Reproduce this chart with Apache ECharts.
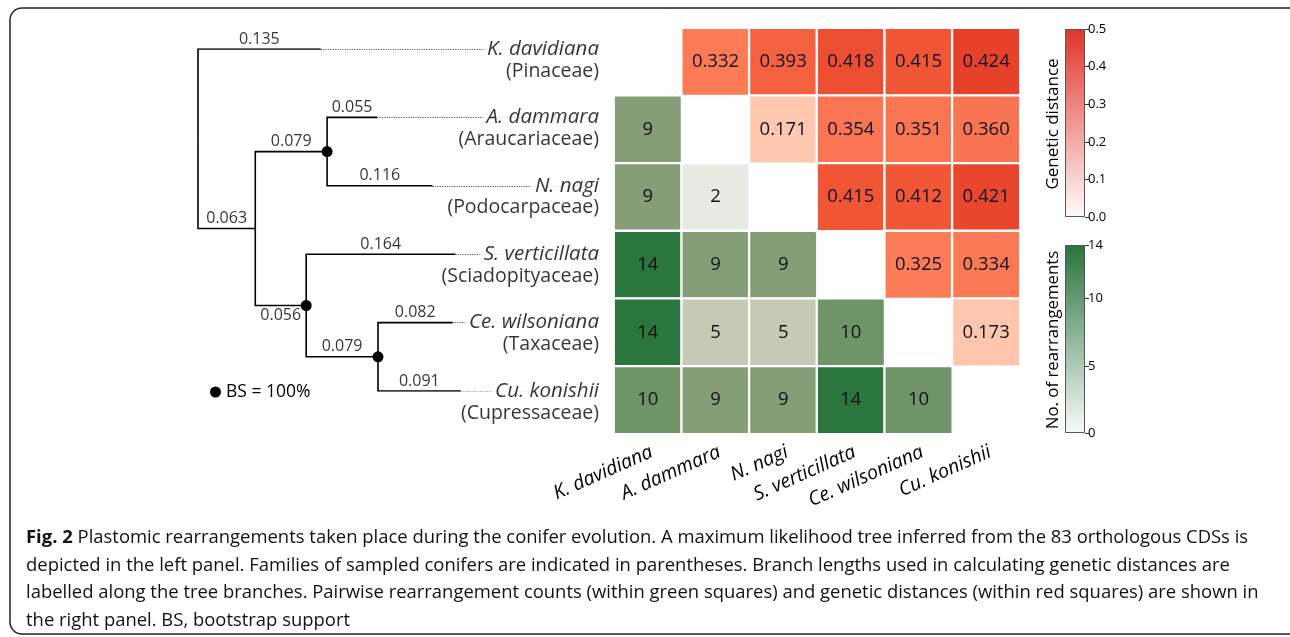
<!DOCTYPE html>
<html>
<head>
<meta charset="utf-8">
<script src="https://cdn.jsdelivr.net/npm/echarts@6/dist/echarts.min.js"></script>
<style>
  html, body { margin: 0; padding: 0; background: #fff; }
  #chart { width: 1290px; height: 637px; }
</style>
</head>
<body>
<div id="chart"></div>
<script>
// ---------------- DATA ----------------
const taxa = ['K. davidiana', 'A. dammara', 'N. nagi', 'S. verticillata', 'Ce. wilsoniana', 'Cu. konishii'];
const families = ['Pinaceae', 'Araucariaceae', 'Podocarpaceae', 'Sciadopityaceae', 'Taxaceae', 'Cupressaceae'];

// tree edges (parent -> child, branch length)
const edgeParent = ['R', 'R', 'X', 'X', 'A', 'A', 'B', 'B', 'C', 'C'];
const edgeChild = ['K. davidiana', 'X', 'A', 'B', 'A. dammara', 'N. nagi', 'S. verticillata', 'C', 'Ce. wilsoniana', 'Cu. konishii'];
const edgeLength = [0.135, 0.063, 0.079, 0.056, 0.055, 0.116, 0.164, 0.079, 0.082, 0.091];
const bootstrap100 = ['A', 'B', 'C'];

// pairwise rearrangement counts (lower triangle, row i, columns 0..i-1)
const rearrangements = [[], [9], [9, 2], [14, 9, 9], [14, 5, 5, 10], [10, 9, 9, 14, 10]];
// pairwise genetic distances (upper triangle, row i, columns i+1..5)
const distances = [[0.332, 0.393, 0.418, 0.415, 0.424], [0.171, 0.354, 0.351, 0.360], [0.415, 0.412, 0.421], [0.325, 0.334], [0.173], []];

const distanceMax = 0.5, distanceTickStep = 0.1;
const rearrMax = 14, rearrTickStep = 5;

const captionBold = 'Fig. 2';
const captionLines = [
  ' Plastomic rearrangements taken place during the conifer evolution. A maximum likelihood tree inferred from the 83 orthologous CDSs is',
  'depicted in the left panel. Families of sampled conifers are indicated in parentheses. Branch lengths used in calculating genetic distances are',
  'labelled along the tree branches. Pairwise rearrangement counts (within green squares) and genetic distances (within red squares) are shown in',
  'the right panel. BS, bootstrap support'
];

// ---------------- TREE LAYOUT (data units) ----------------
const kids = {}, lenOf = {};
edgeParent.forEach((p, i) => { (kids[p] = kids[p] || []).push(edgeChild[i]); lenOf[edgeChild[i]] = edgeLength[i]; });
const xOf = { R: 0 };
(function setX(n) { (kids[n] || []).forEach(c => { xOf[c] = xOf[n] + lenOf[c]; setX(c); }); })('R');
const yOf = {};
(function setY(n) {
  if (!kids[n]) { yOf[n] = taxa.indexOf(n); return yOf[n]; }
  const ys = kids[n].map(setY);
  yOf[n] = (ys[0] + ys[ys.length - 1]) / 2; return yOf[n];
})('R');

const TREE_XMAX = 0.44;
const treeLines = edgeChild.map((c, i) => {
  const p = edgeParent[i];
  return { coords: [[xOf[p], yOf[p]], [xOf[p], yOf[c]], [xOf[c], yOf[c]]] };
});
const leaderLines = taxa.map(t => ({ coords: [[xOf[t], yOf[t]], [TREE_XMAX, yOf[t]]] }));
const belowLabel = ['B'];
const branchLabels = edgeChild.map((c, i) => ({
  value: [(xOf[edgeParent[i]] + xOf[c]) / 2, yOf[c]],
  label: { position: belowLabel.includes(c) ? 'bottom' : 'top', formatter: edgeLength[i].toFixed(3) }
}));
const tipLabels = taxa.map((t, i) => ({
  value: [TREE_XMAX, i],
  label: { formatter: '{n|' + t + '}\n{f|(' + families[i] + ')}' }
}));
const bsDots = bootstrap100.map(n => [xOf[n], yOf[n]]);

// ---------------- HEATMAP DATA ----------------
const greenData = [], redData = [];
rearrangements.forEach((row, i) => row.forEach((v, j) => greenData.push([j, i, v])));
distances.forEach((row, i) => row.forEach((v, k) => redData.push([i + 1 + k, i, v])));

// colour scales (style)
function hex2rgb(h) { return [1, 3, 5].map(k => parseInt(h.substr(k, 2), 16)); }
function rgb2hex(c) { return '#' + c.map(v => Math.round(v).toString(16).padStart(2, '0')).join(''); }
function sampleScale(stops, max, n) {
  const out = [];
  for (let k = 0; k < n; k++) {
    const v = max * k / (n - 1);
    let s = 0;
    while (s < stops.length - 2 && v > stops[s + 1][0]) s++;
    const a = stops[s], b = stops[s + 1];
    const t = Math.max(0, Math.min(1, (v - a[0]) / (b[0] - a[0])));
    const ca = hex2rgb(a[1]), cb = hex2rgb(b[1]);
    out.push(rgb2hex(ca.map((x, q) => x + (cb[q] - x) * t)));
  }
  return out;
}
const greenCellScale = sampleScale([[0, '#f8faf7'], [2, '#e8ebe3'], [5, '#c3cbb7'], [9, '#869e78'], [10, '#70946a'], [14, '#2a763e']], rearrMax, 57);
const redCellScale = sampleScale([[0, '#ffffff'], [0.172, '#fec6b0'], [0.33, '#fc7a56'], [0.36, '#f97452'], [0.393, '#f46140'], [0.415, '#f05535'], [0.424, '#e63f28'], [0.5, '#d83020']], distanceMax, 101);

const FONT = "'Open Sans', sans-serif";
const TXT = '#000000';

const chart = echarts.init(document.getElementById('chart'), null, { renderer: 'canvas' });
const option = {
  backgroundColor: '#ffffff',
  animation: false,
  textStyle: { fontFamily: FONT, color: TXT },
  legend: {
    data: ['BS = 100%'], left: 205, top: 378, icon: 'circle', itemWidth: 11, itemHeight: 11, itemGap: 4,
    textStyle: { fontSize: 17.5, color: TXT, fontFamily: FONT }, selectedMode: false
  },
  grid: [
    { left: 198, top: 49, width: 400, height: 342 },
    { left: 614, top: 28, width: 406, height: 406 },
    { left: 1065, top: 29, width: 20, height: 188 },
    { left: 1065, top: 245, width: 20, height: 188 }
  ],
  xAxis: [
    { gridIndex: 0, type: 'value', min: 0, max: TREE_XMAX, show: false },
    {
      gridIndex: 1, type: 'category', data: taxa, position: 'bottom',
      axisLine: { show: false }, axisTick: { show: false }, splitLine: { show: false },
      axisLabel: { rotate: 24, fontSize: 19.5, fontStyle: 'italic', color: TXT, margin: 8, verticalAlign: 'top', fontFamily: FONT, interval: 0 }
    },
    { gridIndex: 2, type: 'category', data: ['cb'], show: false },
    { gridIndex: 3, type: 'category', data: ['cb'], show: false }
  ],
  yAxis: [
    { gridIndex: 0, type: 'value', min: 0, max: taxa.length - 1, inverse: true, show: false },
    { gridIndex: 1, type: 'category', data: taxa, inverse: true, show: false },
    {
      gridIndex: 2, type: 'value', min: 0, max: distanceMax, interval: distanceTickStep, position: 'right',
      axisLine: { show: false }, splitLine: { show: false },
      axisTick: { show: true, length: 4, lineStyle: { color: '#333', width: 1 } },
      axisLabel: { fontSize: 13, color: TXT, margin: 3, formatter: v => v.toFixed(1) }
    },
    {
      gridIndex: 3, type: 'value', min: 0, max: rearrMax, interval: rearrTickStep, position: 'right',
      axisLine: { show: false }, splitLine: { show: false },
      axisTick: { show: true, length: 4, lineStyle: { color: '#333', width: 1 } },
      axisLabel: { fontSize: 13, color: TXT, margin: 3 }
    }
  ],
  visualMap: [
    { type: 'continuous', show: false, seriesIndex: 5, min: 0, max: rearrMax, inRange: { color: greenCellScale } },
    { type: 'continuous', show: false, seriesIndex: 6, min: 0, max: distanceMax, inRange: { color: redCellScale } }
  ],
  series: [
    {
      type: 'lines', coordinateSystem: 'cartesian2d', xAxisIndex: 0, yAxisIndex: 0, polyline: true, z: 3,
      lineStyle: { color: '#000', width: 1.6, opacity: 1 }, data: treeLines, silent: true
    },
    {
      type: 'lines', coordinateSystem: 'cartesian2d', xAxisIndex: 0, yAxisIndex: 0, z: 2,
      lineStyle: { color: '#555', width: 1, type: [1.2, 1.2], opacity: 1 }, data: leaderLines, silent: true
    },
    {
      type: 'scatter', xAxisIndex: 0, yAxisIndex: 0, symbolSize: 0, z: 4, silent: true,
      label: { show: true, distance: 2, fontSize: 16, color: TXT, fontFamily: FONT },
      data: branchLabels
    },
    {
      type: 'scatter', xAxisIndex: 0, yAxisIndex: 0, symbolSize: 0, z: 5, silent: true,
      label: {
        show: true, position: 'left', distance: -1, offset: [0, 11],
        rich: {
          n: { fontSize: 20.5, fontStyle: 'italic', color: TXT, lineHeight: 22, align: 'right', backgroundColor: '#fff', padding: [0, 0, 0, 4], fontFamily: FONT },
          f: { fontSize: 19.5, color: TXT, lineHeight: 22, align: 'right', fontFamily: FONT }
        }
      },
      data: tipLabels
    },
    {
      name: 'BS = 100%', type: 'scatter', xAxisIndex: 0, yAxisIndex: 0, symbol: 'circle', symbolSize: 11, z: 6,
      itemStyle: { color: '#000', opacity: 1 }, data: bsDots, silent: true
    },
    {
      type: 'heatmap', xAxisIndex: 1, yAxisIndex: 1, data: greenData,
      itemStyle: { borderColor: '#fff', borderWidth: 2.3 },
      label: { show: true, fontSize: 18.5, color: '#111', fontFamily: FONT, formatter: p => String(p.value[2]) },
      emphasis: { disabled: true }
    },
    {
      type: 'heatmap', xAxisIndex: 1, yAxisIndex: 1, data: redData,
      itemStyle: { borderColor: '#fff', borderWidth: 2.3 },
      label: { show: true, fontSize: 18.5, color: '#111', fontFamily: FONT, formatter: p => p.value[2].toFixed(3) },
      emphasis: { disabled: true }
    },
    {
      type: 'bar', xAxisIndex: 2, yAxisIndex: 2, barWidth: '100%', data: [distanceMax], silent: true,
      itemStyle: {
        borderColor: '#555', borderWidth: 1,
        color: { type: 'linear', x: 0, y: 0, x2: 0, y2: 1, colorStops: [{ offset: 0, color: '#e0352a' }, { offset: 1, color: '#fffbfb' }] }
      }
    },
    {
      type: 'bar', xAxisIndex: 3, yAxisIndex: 3, barWidth: '100%', data: [rearrMax], silent: true,
      itemStyle: {
        borderColor: '#555', borderWidth: 1,
        color: { type: 'linear', x: 0, y: 0, x2: 0, y2: 1, colorStops: [{ offset: 0, color: '#28743d' }, { offset: 1, color: '#f8faf8' }] }
      }
    }
  ],
  graphic: [
    { type: 'rect', shape: { x: 10, y: 8, width: 1300, height: 626, r: 12 }, style: { fill: 'none', stroke: '#222', lineWidth: 1.5 }, silent: true, z: 0 },
    { type: 'text', x: 1053, y: 124, rotation: Math.PI / 2, style: { text: 'Genetic distance', fontSize: 17, fontFamily: FONT, fill: TXT, textAlign: 'center', textVerticalAlign: 'middle' } },
    { type: 'text', x: 1053, y: 340, rotation: Math.PI / 2, style: { text: 'No. of rearrangements', fontSize: 16.8, fontFamily: FONT, fill: TXT, textAlign: 'center', textVerticalAlign: 'middle' } },
    {
      type: 'text', left: 26, top: 524,
      style: {
        text: '{b|' + captionBold + '}' + captionLines.join('\n'),
        fontSize: 18.45, fontFamily: FONT, fill: '#111', lineHeight: 27.5,
        rich: { b: { fontWeight: 'bold', fontSize: 18.45, fontFamily: FONT, fill: '#111', lineHeight: 27.5 } }
      }
    }
  ]
};
chart.setOption(option);
</script>
</body>
</html>
